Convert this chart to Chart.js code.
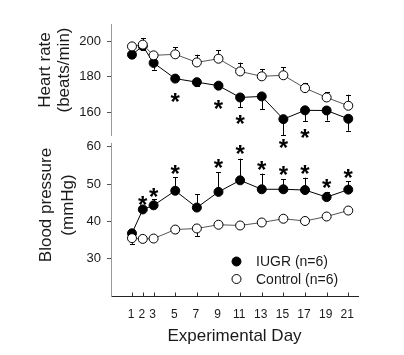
<!DOCTYPE html>
<html><head><meta charset="utf-8">
<script src="https://cdn.jsdelivr.net/npm/chart.js@4.4.1/dist/chart.umd.min.js"></script>
<style>
html,body{margin:0;padding:0;background:#fff;}
#wrap{position:relative;width:404px;height:355px;overflow:hidden;}
canvas{position:absolute;left:0;top:0;}
</style></head><body>
<div id="wrap"><canvas id="c1" width="404" height="355"></canvas><canvas id="c2" width="404" height="355"></canvas></div>
<script>
const days = [1,2,3,5,7,9,11,13,15,17,19,21];
const dayTicks = [1,2,3,5,7,9,11,13,15,17,19,21];

const hrIUGR = [192.6,197.5,187.9,179,177,175,168.3,168.9,156,161,160.9,156.2];
const hrIUGRErr = [2,2,3.8,1,2,2,5.5,7.2,9,6,5.7,6.8];
const hrControl = [197.3,198.3,192.2,192.8,188.2,190.3,183.1,180.3,180.9,173.6,168.3,163.6];
const hrControlErr = [1,3.8,2,4,4.4,4.7,5,4,4.5,3,3,6.3];
const hrStarDays = [5,9,11,15,17];
const hrStarY = [168.9,165.1,156.6,142.6,148.4];
const hrTicks = [160,180,200];

const bpIUGR = [36.8,43.2,44.3,48.2,43.7,47.9,51.0,48.6,48.6,48.4,46.5,48.5];
const bpIUGRErr = [0.5,1,1.6,3.6,3.5,5.3,5.8,4.2,2.7,3.3,1.4,2.3];
const bpControl = [35.5,35.3,35.4,37.8,38.1,39.1,38.9,39.7,40.7,40.1,41.3,42.9];
const bpControlErr = [1.5,0.8,0.5,1,2,0.5,0.5,0.5,1,0.5,0.5,0.5];
const bpStarDays = [2,3,5,9,11,13,15,17,19,21];
const bpStarY = [46.0,48,54.3,55.9,59.7,55.2,53.9,54.3,50.5,53.1];
const bpTicks = [30,40,50,60];

const legendLabels = ['IUGR (n=6)','Control (n=6)'];

const FONT = "'Liberation Sans', Arial, sans-serif";
const TXT = '#1a1a1a';

function pts(ys){ return days.map((d,i)=>({x:d,y:ys[i]})); }

const extras = {
  id:'extras',
  beforeDatasetsDraw(chart, args, opts){
    const ctx = chart.ctx, xs = chart.scales.x, ys = chart.scales.y;
    ctx.save();
    ctx.strokeStyle = '#000'; ctx.lineWidth = 1;
    opts.errs.forEach(e=>{
      e.vals.forEach((v,i)=>{
        const x = Math.round(xs.getPixelForValue(days[i]))+0.5;
        const y0 = ys.getPixelForValue(v);
        const y1 = ys.getPixelForValue(v + e.dir*e.err[i]);
        ctx.beginPath(); ctx.moveTo(x,y0); ctx.lineTo(x,y1);
        ctx.moveTo(x-2.5,Math.round(y1)+0.5); ctx.lineTo(x+2.5,Math.round(y1)+0.5);
        ctx.stroke();
      });
    });
    // inward x tick marks
    if (opts.xTicksIn){
      const yb = chart.chartArea.bottom;
      ctx.strokeStyle = '#333';
      dayTicks.forEach(d=>{
        const x = Math.round(xs.getPixelForValue(d))+0.5;
        ctx.beginPath(); ctx.moveTo(x,yb); ctx.lineTo(x,yb-3.5); ctx.stroke();
      });
    }
    ctx.restore();
  },
  afterDraw(chart, args, opts){
    const ctx = chart.ctx, xs = chart.scales.x, ys = chart.scales.y;
    ctx.save();
    ctx.fillStyle = '#000';
    ctx.font = 'bold 24px ' + FONT;
    ctx.textAlign = 'center'; ctx.textBaseline = 'alphabetic';
    opts.starDays.forEach((d,i)=>{
      const x = xs.getPixelForValue(d), y = ys.getPixelForValue(opts.starY[i]);
      ctx.fillText('*', x, y + 0.57*24);
    });
    ctx.fillStyle = TXT;
    ctx.font = '17px ' + FONT;
    ctx.textBaseline = 'middle';
    opts.titles.forEach(t=>{
      ctx.save(); ctx.translate(t.x, t.y); ctx.rotate(-Math.PI/2);
      ctx.fillText(t.text, 0, 0); ctx.restore();
    });
    if (opts.legend){
      ctx.font = '14px ' + FONT; ctx.textAlign='left';
      opts.legend.forEach((l,i)=>{
        ctx.beginPath(); ctx.arc(236.5, l.y, 4.5, 0, Math.PI*2);
        ctx.fillStyle = l.fill; ctx.fill(); ctx.strokeStyle='#000'; ctx.lineWidth=1; ctx.stroke();
        ctx.fillStyle = TXT; ctx.fillText(legendLabels[i], 256, l.y+1);
      });
    }
    ctx.restore();
  }
};

function yScale(min,max,ticks){
  return {
    min, max,
    afterBuildTicks: s => { s.ticks = ticks.map(v=>({value:v})); },
    afterFit: s => { s.width = 111; },
    ticks:{font:{family:FONT,size:13}, color:TXT, padding:6},
    grid:{drawOnChartArea:false, tickLength:4, color:'#555'},
    border:{color:'#999', width:1}
  };
}

function datasets(iugr, ctrl){
  return [
    {data:pts(ctrl), borderColor:'#555', borderWidth:1, pointRadius:4.5, pointBackgroundColor:'#fff', pointBorderColor:'#000', pointBorderWidth:1},
    {data:pts(iugr), borderColor:'#000', borderWidth:1, pointRadius:4.5, pointBackgroundColor:'#000', pointBorderColor:'#000', pointBorderWidth:1}
  ];
}

const common = {responsive:false, animation:false, events:[]};

new Chart(document.getElementById('c1'), {
  type:'line',
  data:{datasets:datasets(hrIUGR, hrControl)},
  options:Object.assign({}, common, {
    layout:{padding:{left:0,right:46,top:24,bottom:220}},
    plugins:{legend:{display:false}, tooltip:{enabled:false},
      extras:{
        errs:[{vals:hrIUGR, err:hrIUGRErr, dir:-1},{vals:hrControl, err:hrControlErr, dir:1}],
        starDays:hrStarDays, starY:hrStarY,
        titles:[{text:'Heart rate',x:45,y:70},{text:'(beats/min)',x:64,y:70}]
      }},
    scales:{
      x:{type:'linear', min:-0.94, max:21.9, display:false},
      y:yScale(147,210,hrTicks)
    }
  }),
  plugins:[extras]
});

new Chart(document.getElementById('c2'), {
  type:'line',
  data:{datasets:datasets(bpIUGR, bpControl)},
  options:Object.assign({}, common, {
    layout:{padding:{left:0,right:46,top:143,bottom:0}},
    plugins:{legend:{display:false}, tooltip:{enabled:false},
      extras:{
        errs:[{vals:bpIUGR, err:bpIUGRErr, dir:1},{vals:bpControl, err:bpControlErr, dir:-1}],
        starDays:bpStarDays, starY:bpStarY, xTicksIn:true,
        titles:[{text:'Blood pressure',x:46,y:205},{text:'(mmHg)',x:68,y:205}],
        legend:[{y:261.5, fill:'#000'},{y:279, fill:'#fff'}]
      }},
    scales:{
      x:{type:'linear', min:-0.94, max:21.9,
        afterBuildTicks: s => { s.ticks = dayTicks.map(v=>({value:v})); },
        afterFit: s => { s.height = 59; },
        ticks:{font:{family:FONT,size:12}, color:TXT, padding:11, autoSkip:false, maxRotation:0, labelOffset:-1},
        grid:{drawOnChartArea:false, drawTicks:false, tickLength:0, color:'#333'},
        border:{color:'#222', width:1},
        title:{display:true, text:'Experimental Day', font:{family:FONT,size:17}, color:TXT, padding:{top:0,bottom:8}}
      },
      y:yScale(20,61,bpTicks)
    }
  }),
  plugins:[extras]
});
</script>
</body></html>
